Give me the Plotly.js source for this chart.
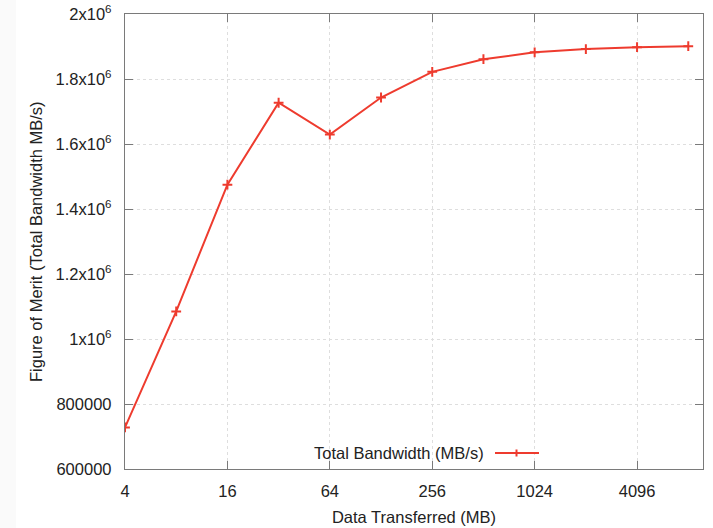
<!DOCTYPE html>
<html>
<head>
<meta charset="utf-8">
<script src="https://cdn.plot.ly/plotly-3.0.1.min.js"></script>
<style>
  html, body { margin: 0; padding: 0; background: #ffffff; }
  #chart { width: 713px; height: 528px; }
</style>
</head>
<body>
<div id="chart"></div>
<script>
// Data
const dataTransferred = [4, 8, 16, 32, 64, 128, 256, 512, 1024, 2048, 4096, 8192];
const totalBandwidth = [728000, 1085000, 1475000, 1727000, 1629000, 1743000, 1822000, 1861000, 1882000, 1892000, 1898000, 1901000];
const seriesName = "Total Bandwidth (MB/s)";

const xTickVals = [4, 16, 64, 256, 1024, 4096];
const xTickText = ["4", "16", "64", "256", "1024", "4096"];
const yTickVals = [600000, 800000, 1000000, 1200000, 1400000, 1600000, 1800000, 2000000];
const yTickText = ["600000", "800000", "1x10<sup>6</sup>", "1.2x10<sup>6</sup>", "1.4x10<sup>6</sup>",
                   "1.6x10<sup>6</sup>", "1.8x10<sup>6</sup>", "2x10<sup>6</sup>"];

const xTitle = "Data Transferred (MB)";
const yTitle = "Figure of Merit (Total Bandwidth MB/s)";

// Layout geometry
const W = 713, H = 528;
const M = { l: 125, r: 10, t: 14, b: 59 };
const PW = W - M.l - M.r, PH = H - M.t - M.b;
const px = x => (x - M.l) / PW;
const py = y => (H - M.b - y) / PH;

const lineColor = "#ee3b2e";
const axisColor = "#7a7a7a";
const font = { family: "Liberation Sans, Arial, sans-serif", size: 16.5, color: "#222222" };

const trace = {
  x: dataTransferred,
  y: totalBandwidth,
  type: "scatter",
  mode: "lines+markers",
  name: seriesName,
  line: { color: lineColor, width: 2 },
  marker: { symbol: "cross-thin", size: 7, line: { color: lineColor, width: 2 }, color: lineColor },
  showlegend: false,
  hoverinfo: "x+y"
};

const layout = {
  width: W, height: H,
  margin: M,
  paper_bgcolor: "#ffffff",
  plot_bgcolor: "#ffffff",
  font: font,
  showlegend: false,
  xaxis: {
    type: "log",
    range: [Math.log10(4), 4],
    tickmode: "array",
    tickvals: xTickVals,
    ticktext: xTickText,
    ticks: "inside",
    ticklen: 8,
    tickwidth: 1,
    tickcolor: axisColor,
    showline: true,
    linecolor: axisColor,
    linewidth: 1.2,
    mirror: "allticks",
    showgrid: true,
    gridcolor: "#dedede",
    griddash: "dot",
    gridwidth: 1,
    zeroline: false,
    ticklabelstandoff: 7,
    tickfont: font,
    title: { text: xTitle, font: font, standoff: 12 },
    automargin: false
  },
  yaxis: {
    range: [600000, 2000000],
    tickmode: "array",
    tickvals: yTickVals,
    ticktext: yTickText,
    ticks: "inside",
    ticklen: 8,
    tickwidth: 1,
    tickcolor: axisColor,
    showline: true,
    linecolor: axisColor,
    linewidth: 1.2,
    mirror: "allticks",
    showgrid: true,
    gridcolor: "#dedede",
    griddash: "dot",
    gridwidth: 1,
    zeroline: false,
    ticklabelstandoff: 9,
    tickfont: font,
    automargin: false
  },
  annotations: [
    {
      text: yTitle,
      xref: "paper", yref: "paper",
      x: px(36), y: py(242),
      xanchor: "center", yanchor: "middle",
      textangle: -90,
      showarrow: false,
      font: font
    },
    {
      text: seriesName,
      xref: "paper", yref: "paper",
      x: px(486), y: py(453),
      xanchor: "right", yanchor: "middle",
      showarrow: false,
      font: font
    }
  ],
  shapes: [
    { type: "rect", xref: "paper", yref: "paper", x0: px(0), x1: px(16), y0: py(H), y1: py(0),
      fillcolor: "#fafafa", line: { width: 0 }, layer: "below" },
    { type: "line", xref: "paper", yref: "paper", x0: px(495), x1: px(539), y0: py(453), y1: py(453),
      line: { color: lineColor, width: 2 } },
    { type: "line", xref: "paper", yref: "paper", x0: px(516.5), x1: px(516.5), y0: py(449.5), y1: py(456.5),
      line: { color: lineColor, width: 2 } }
  ]
};

Plotly.newPlot("chart", [trace], layout, { displayModeBar: false, staticPlot: true });
</script>
</body>
</html>
